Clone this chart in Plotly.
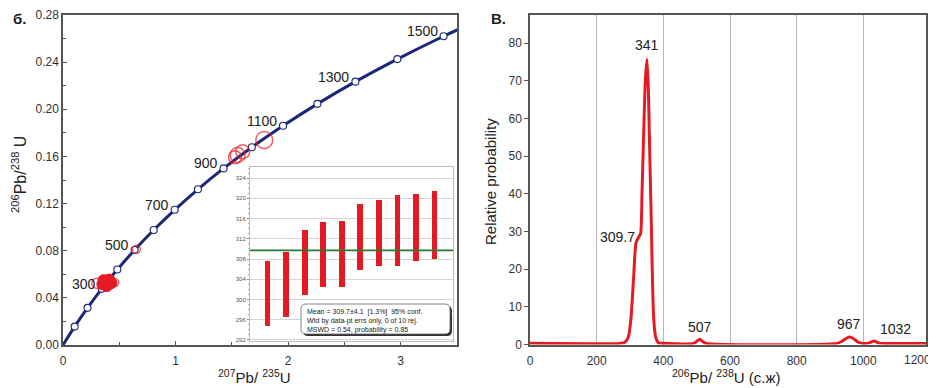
import plotly.graph_objects as go

# The page body has an 8px margin, so the figure is drawn at (8, 8) in the window.
OFF = 8
W, H = 936 - OFF, 388 - OFF
FONT = "Liberation Sans, Arial, sans-serif"

# ---------------- data ----------------
# Concordia reference points (age, Ma) and ratios
conc_age = [0, 100, 200, 300, 400, 500, 600, 700, 800, 900, 1000, 1100, 1200, 1300, 1400, 1500, 1600]
conc_pb207_u235 = [0.0, 0.1035, 0.2177, 0.3437, 0.4828, 0.6362, 0.8056, 0.9925, 1.1988, 1.4264,
                   1.6774, 1.9546, 2.2603, 2.5977, 2.9701, 3.3810, 3.8344]
conc_pb206_u238 = [0.0, 0.01563, 0.03151, 0.04764, 0.06402, 0.08065, 0.09754, 0.11470, 0.13213, 0.14983,
                   0.16781, 0.18606, 0.20461, 0.22344, 0.24257, 0.26199, 0.28173]
label_ages = [300, 500, 700, 900, 1100, 1300, 1500]

# analyses (filled = concordant cluster, open = others)
filled_x = [0.35, 0.37, 0.39, 0.41, 0.38, 0.40, 0.42, 0.36, 0.43, 0.39]
filled_y = [0.0515, 0.0530, 0.0545, 0.0555, 0.0510, 0.0525, 0.0540, 0.0550, 0.0525, 0.0500]
open_x = [0.30, 0.46, 0.652, 1.528, 1.551, 1.596, 1.788]
open_y = [0.0525, 0.0530, 0.0812, 0.1593, 0.1612, 0.1640, 0.1740]
open_size = [10, 8, 8, 13, 15, 14, 17]

# weighted mean inset (ages, Ma)
wm_index = [1, 2, 3, 4, 5, 6, 7, 8, 9, 10]
wm_low = [294.8, 296.5, 300.9, 302.4, 302.4, 305.8, 306.6, 306.7, 307.6, 308.0]
wm_high = [307.6, 309.3, 313.8, 315.4, 315.6, 318.9, 319.7, 320.7, 320.9, 321.5]
wm_mean = 309.7
wm_text = ["Mean = 309.7±4.1  [1.3%]  95% conf.",
           "Wtd by data-pt errs only, 0 of 10 rej.",
           "MSWD = 0.54, probability = 0.85"]

# probability density curve
prob_age = [0, 270, 285, 295, 303, 311, 318, 326, 332, 336, 341, 346, 351, 355, 358, 361, 364, 367, 371,
            377, 386, 400, 490, 500, 509, 518, 528, 920, 935, 948, 958, 970, 985, 998, 1012, 1022,
            1033, 1044, 1055, 1200]
prob_val = [0.3, 0.3, 0.6, 2, 7, 18, 27, 28.5, 29.5, 40, 56, 70, 75.7, 68, 56, 44, 32, 19, 7,
            2, 0.4, 0.3, 0.3, 0.8, 1.4, 0.8, 0.3, 0.3, 0.8, 1.6, 2.0, 1.6, 0.6, 0.3, 0.3, 0.6,
            0.9, 0.5, 0.3, 0.3]
peak_labels = ["341", "309.7", "507", "967", "1032"]
peak_label_age = [351, 326, 509, 958, 1033]
peak_label_val = [75.7, 28.5, 1.4, 2.0, 0.9]

prob_ticks = [0, 200, 400, 600, 800, 1000, 1200]

# ---------------- helpers (window pixels -> paper fractions) ----------------
def PX(p):
    return (p - OFF) / W

def PY(p):
    return 1 - (p - OFF) / H

def rrect(x0, y0, x1, y1, r):
    X = lambda p: f"{PX(p):.5f}"
    Y = lambda p: f"{PY(p):.5f}"
    return (f"M {X(x0 + r)},{Y(y0)} L {X(x1 - r)},{Y(y0)} Q {X(x1)},{Y(y0)} {X(x1)},{Y(y0 + r)} "
            f"L {X(x1)},{Y(y1 - r)} Q {X(x1)},{Y(y1)} {X(x1 - r)},{Y(y1)} "
            f"L {X(x0 + r)},{Y(y1)} Q {X(x0)},{Y(y1)} {X(x0)},{Y(y1 - r)} "
            f"L {X(x0)},{Y(y0 + r)} Q {X(x0)},{Y(y0)} {X(x0 + r)},{Y(y0)} Z")

NAVY = "#1c2777"
RED = "#e51b23"

fig = go.Figure()

# concordia
fig.add_trace(go.Scatter(x=conc_pb207_u235, y=conc_pb206_u238, mode="lines",
                         line=dict(color=NAVY, width=3, shape="spline"),
                         xaxis="x", yaxis="y", hoverinfo="skip"))
fig.add_trace(go.Scatter(x=conc_pb207_u235[1:], y=conc_pb206_u238[1:], mode="markers",
                         marker=dict(color="white", size=7, line=dict(color=NAVY, width=1.1)),
                         xaxis="x", yaxis="y"))
# analyses
fig.add_trace(go.Scatter(x=filled_x, y=filled_y, mode="markers",
                         marker=dict(color=RED, size=11, line=dict(color=RED, width=1)),
                         xaxis="x", yaxis="y"))
fig.add_trace(go.Scatter(x=open_x, y=open_y, mode="markers",
                         marker=dict(symbol="circle-open", color=RED, size=open_size,
                                     line=dict(color=RED, width=1.5)),
                         xaxis="x", yaxis="y"))

# inset bars
fig.add_trace(go.Bar(x=wm_index, y=[h - l for h, l in zip(wm_high, wm_low)], base=wm_low,
                     width=0.31, marker=dict(color=RED, line=dict(width=0)),
                     xaxis="x3", yaxis="y3"))

# probability curve
fig.add_trace(go.Scatter(x=prob_age, y=prob_val, mode="lines",
                         line=dict(color=RED, width=3, shape="spline", smoothing=0.6),
                         xaxis="x2", yaxis="y2"))

ann = []
# concordia age labels
for a in label_ages:
    i = conc_age.index(a)
    ann.append(dict(x=conc_pb207_u235[i], y=conc_pb206_u238[i], xref="x", yref="y",
                    text=str(a), showarrow=False, xanchor="right", yanchor="middle",
                    xshift=-4, yshift=5, font=dict(family=FONT, size=14, color="#222")))

# peak labels
peak_shift = [(0, 14, "center"), (-2, 0, "right"), (0, 12, "center"), (0, 13, "center"), (4, 12, "left")]
for t, a, v, (dx, dy, anc) in zip(peak_labels, peak_label_age, peak_label_val, peak_shift):
    ann.append(dict(x=a, y=v, xref="x2", yref="y2", text=t, showarrow=False,
                    xanchor=anc, yanchor="middle", xshift=dx, yshift=dy,
                    font=dict(family=FONT, size=14, color="#222")))

# last tick label of the probability axis (sits at the right edge of the page)
ann.append(dict(x=PX(932), y=PY(360), xref="paper", yref="paper", showarrow=False,
                text=str(prob_ticks[-1]), font=dict(family=FONT, size=12, color="#333"),
                xanchor="right", yanchor="middle", borderpad=0))

# axis titles / panel labels
ann += [
    dict(x=PX(254), y=PY(376), xref="paper", yref="paper", showarrow=False,
         text="<sup>207</sup>Pb/ <sup>235</sup>U", font=dict(family=FONT, size=15, color="#222"),
         xanchor="center", yanchor="middle"),
    dict(x=PX(19), y=PY(175), xref="paper", yref="paper", showarrow=False, textangle=-90,
         text="<sup>206</sup>Pb/<sup>238</sup> U", font=dict(family=FONT, size=16, color="#222"),
         xanchor="center", yanchor="middle"),
    dict(x=PX(726), y=PY(376), xref="paper", yref="paper", showarrow=False,
         text="<sup>206</sup>Pb/ <sup>238</sup>U (с.ж)", font=dict(family=FONT, size=15, color="#222"),
         xanchor="center", yanchor="middle"),
    dict(x=PX(490), y=PY(182), xref="paper", yref="paper", showarrow=False, textangle=-90,
         text="Relative probability", font=dict(family=FONT, size=15, color="#222"),
         xanchor="center", yanchor="middle"),
    dict(x=PX(19), y=PY(9), xref="paper", yref="paper", showarrow=False,
         text="<b>б.</b>", font=dict(family=FONT, size=15, color="#222"),
         xanchor="center", yanchor="top", borderpad=0),
    dict(x=PX(499), y=PY(9), xref="paper", yref="paper", showarrow=False,
         text="<b>В.</b>", font=dict(family=FONT, size=15, color="#222"),
         xanchor="center", yanchor="top", borderpad=0),
    dict(x=PX(305), y=PY(306), xref="paper", yref="paper", showarrow=False,
         text="<br>".join(wm_text), align="left", font=dict(family=FONT, size=7, color="#222"),
         xanchor="left", yanchor="top"),
]

shapes = [
    dict(type="path", xref="paper", yref="paper", path=rrect(303, 306, 452, 336, 5),
         fillcolor="#333", line=dict(width=0), layer="above"),
    dict(type="path", xref="paper", yref="paper", path=rrect(301, 304, 450, 334, 5),
         fillcolor="white", line=dict(color="#666", width=0.8), layer="above"),
    dict(type="line", xref="x3 domain", yref="y3", x0=0, x1=1, y0=wm_mean, y1=wm_mean,
         line=dict(color="#2a7a36", width=1.8), layer="above"),
]

tickfont = dict(family=FONT, size=12, color="#333")
FRAME = "#555"

fig.update_layout(
    width=W, height=H, margin=dict(l=0, r=0, t=0, b=0),
    paper_bgcolor="white", plot_bgcolor="white", showlegend=False,
    font=dict(family=FONT),
    annotations=ann, shapes=shapes,
    xaxis=dict(domain=[PX(63), PX(457)], range=[0, 3.5], dtick=1, tick0=0, anchor="y",
               ticks="inside", ticklen=4, tickcolor=FRAME, ticklabelstandoff=4,
               minor=dict(ticks="inside", ticklen=3, dtick=0.5, tickcolor=FRAME),
               showline=True, mirror=True, linecolor=FRAME, linewidth=1.5,
               showgrid=False, zeroline=False, tickfont=tickfont, automargin=False),
    yaxis=dict(domain=[PY(345), PY(15)], range=[0, 0.28], dtick=0.04, tick0=0, anchor="x",
               tickformat=".2f", ticks="inside", ticklen=4, tickcolor=FRAME,
               minor=dict(ticks="inside", ticklen=3, dtick=0.02, tickcolor=FRAME),
               showline=True, mirror=True, linecolor=FRAME, linewidth=1.5,
               showgrid=False, zeroline=False, tickfont=tickfont, automargin=False),
    xaxis2=dict(domain=[PX(530), PX(926)], range=[0, 1188], tickmode="array",
                tickvals=prob_ticks[:-1], anchor="y2", ticklabelstandoff=4,
                ticks="", showline=True, mirror=True, linecolor=FRAME, linewidth=1.5,
                showgrid=True, gridcolor="#b5b5b5", gridwidth=1, zeroline=False,
                tickfont=tickfont, automargin=False),
    yaxis2=dict(domain=[PY(344.5), PY(14.5)], range=[0, 87.6], dtick=10, tick0=0, anchor="x2",
                ticks="outside", ticklen=4, tickcolor=FRAME,
                showline=True, mirror=True, linecolor=FRAME, linewidth=1.5,
                showgrid=False, zeroline=False, tickfont=tickfont, automargin=False),
    xaxis3=dict(domain=[PX(250), PX(453)], range=[0.05, 11], anchor="y3",
                showticklabels=False, ticks="", showgrid=False, zeroline=False,
                showline=True, mirror=True, linecolor="#bbb", linewidth=1, automargin=False),
    yaxis3=dict(domain=[PY(341), PY(167)], range=[291.8, 326.2], dtick=4, tick0=292, anchor="x3",
                ticks="outside", ticklen=2, tickcolor="#888",
                minor=dict(ticks="outside", ticklen=1.5, dtick=1, tickcolor="#aaa"),
                showgrid=True, gridcolor="#d4d4d4", gridwidth=1, zeroline=False,
                showline=True, mirror=True, linecolor="#bbb", linewidth=1,
                tickfont=dict(family=FONT, size=6, color="#555"), automargin=False),
    bargap=0,
)

fig.write_html("out.html")
